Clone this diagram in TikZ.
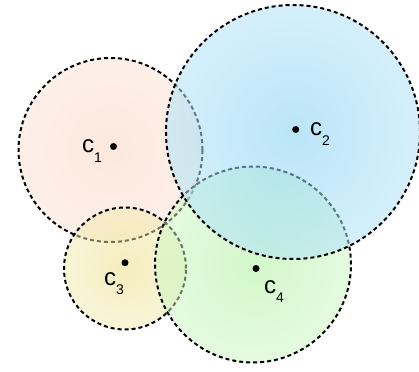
\documentclass[tikz,border=0pt]{standalone}
\usepackage{fontspec}
\setmainfont{Liberation Sans}
\definecolor{aIn}{RGB}{250,208,186}
\definecolor{aOut}{RGB}{254,243,238}
\definecolor{bIn}{RGB}{130,208,242}
\definecolor{bOut}{RGB}{226,245,254}
\definecolor{cIn}{RGB}{234,220,126}
\definecolor{cOut}{RGB}{252,250,228}
\definecolor{dIn}{RGB}{168,240,152}
\definecolor{dOut}{RGB}{238,252,234}
\pgfdeclareradialshading{shA}{\pgfpoint{0bp}{0bp}}{color(0bp)=(aIn); color(50bp)=(aOut)}
\pgfdeclareradialshading{shB}{\pgfpoint{0bp}{0bp}}{color(0bp)=(bIn); color(50bp)=(bOut)}
\pgfdeclareradialshading{shC}{\pgfpoint{0bp}{0bp}}{color(0bp)=(cIn); color(50bp)=(cOut)}
\pgfdeclareradialshading{shD}{\pgfpoint{0bp}{0bp}}{color(0bp)=(dIn); color(50bp)=(dOut)}
\newcommand\clab[1]{{\fontsize{24}{24}\selectfont c}\raisebox{-9.5pt}{\fontsize{14}{14}\selectfont #1}}
\tikzset{
  zone/.style={circle, inner sep=0pt, outer sep=0pt, draw=black, line width=2pt,
    dash pattern=on 4pt off 3pt, fill opacity=0.5, draw opacity=1},
  ctr/.style={circle, fill=black, inner sep=0pt, minimum size=7pt},
  lab/.style={anchor=base west, inner sep=0pt, outer sep=0pt}
}
\begin{document}
\begin{tikzpicture}[x=1pt,y=-1pt]
\useasboundingbox (0,0) rectangle (419,371);
\node (Z1) [zone, shading=shA, minimum size=184pt] at (110.5,150) {};
\node (Z3) [zone, shading=shC, minimum size=122pt] at (125,268.5) {};
\node (Z4) [zone, shading=shD, minimum size=196pt] at (253,264.5) {};
\node (Z2) [zone, shading=shB, minimum size=254pt, fill opacity=0.55] at (293,132) {};
\node (P1) [ctr] at (113.5,146.5) {};
\node (P2) [ctr] at (295.7,129.5) {};
\node (P3) [ctr] at (125,262.7) {};
\node (P4) [ctr] at (256,268.5) {};
\node (L1) [lab] at (82,153) {\clab{1}};
\node (L2) [lab] at (310,136) {\clab{2}};
\node (L3) [lab] at (104,285) {\clab{3}};
\node (L4) [lab] at (264,293) {\clab{4}};
\end{tikzpicture}
\end{document}
